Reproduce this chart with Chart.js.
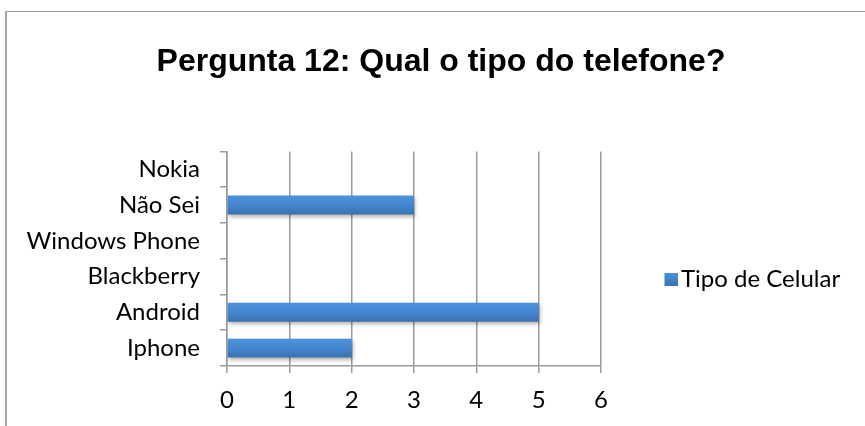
<!DOCTYPE html>
<html>
<head>
<meta charset="utf-8">
<script src="https://cdn.jsdelivr.net/npm/chart.js@4"></script>
<style>
  html, body { margin: 0; padding: 0; background: #ffffff; }
  #wrap { position: relative; width: 865px; height: 426px; overflow: hidden; background: #fff; }
  #frame { position: absolute; left: 5px; top: 11px; width: 900px; height: 500px;
           border-top: 1px solid #9a9a9a; border-left: 2px solid #a6a6a6; }
  #c { position: absolute; left: 0; top: 0; }
</style>
</head>
<body>
<div id="wrap">
  <div id="frame"></div>
  <canvas id="c" width="865" height="426"></canvas>
</div>
<script>
const categories = ["Iphone", "Android", "Blackberry", "Windows Phone", "Não Sei", "Nokia"];
const seriesName = "Tipo de Celular";
const seriesValues = [2, 5, 0, 0, 3, 0];
const xTicks = [0, 1, 2, 3, 4, 5, 6];
const titleText = "Pergunta 12: Qual o tipo do telefone?";

const LABEL_FONT = "Lato, 'Open Sans', sans-serif";
const BAR_FRACTION = 0.53;

function barGradient(context) {
  const chart = context.chart;
  const yScale = chart.scales && chart.scales.y;
  if (!chart.chartArea || !yScale || context.dataIndex === undefined) return '#4281cc';
  const center = yScale.getPixelForValue(context.dataIndex);
  const half = Math.abs(yScale.getPixelForValue(1) - yScale.getPixelForValue(0)) * BAR_FRACTION / 2;
  const g = chart.ctx.createLinearGradient(0, center - half, 0, center + half);
  g.addColorStop(0, '#4d93dc');
  g.addColorStop(0.5, '#4486d0');
  g.addColorStop(1, '#3a70ad');
  return g;
}

// legend marker: a small square sitting close to the legend text
const legendMarker = (function () {
  const cv = document.createElement('canvas');
  cv.width = 30; cv.height = 13;
  const c = cv.getContext('2d');
  const g = c.createLinearGradient(0, 0, 0, 13);
  g.addColorStop(0, '#4d93dc');
  g.addColorStop(1, '#3a74b3');
  c.fillStyle = g;
  c.fillRect(17, 0, 13, 13);
  return cv;
})();

const shadowPlugin = {
  id: 'barShadow',
  beforeDatasetsDraw(chart) {
    const c = chart.ctx;
    c.save();
    c.shadowColor = 'rgba(0,0,0,0.30)';
    c.shadowBlur = 4;
    c.shadowOffsetX = 1;
    c.shadowOffsetY = 2;
  },
  afterDatasetsDraw(chart) {
    chart.ctx.restore();
  }
};

// fixes the legend box width so the plot area ends where the reference does,
// and moves the legend box down a little so its item sits where the reference has it
const legendPlacePlugin = {
  id: 'legendPlace',
  beforeInit(chart) {
    const lg = chart.legend;
    if (!lg || lg._patched) return;
    const origFit = lg.fit.bind(lg);
    lg.fit = function () {
      origFit();
      this.width = 260;
    };
    lg._patched = true;
  },
  afterLayout(chart) {
    const lg = chart.legend;
    if (!lg) return;
    lg.top += 66;
    lg.bottom += 66;
  }
};

new Chart(document.getElementById('c'), {
  type: 'bar',
  data: {
    labels: categories,
    datasets: [{
      label: seriesName,
      data: seriesValues,
      backgroundColor: barGradient,
      borderWidth: 0,
      barPercentage: BAR_FRACTION,
      categoryPercentage: 1.0
    }]
  },
  options: {
    indexAxis: 'y',
    responsive: false,
    animation: false,
    layout: { padding: { left: 21, right: 4, top: 0, bottom: 0 } },
    plugins: {
      title: {
        display: true,
        text: titleText,
        color: '#000000',
        font: { family: "'Liberation Sans', Arial, sans-serif", size: 32, weight: 'bold' },
        padding: { top: 43, bottom: 70 }
      },
      legend: {
        display: true,
        position: 'right',
        align: 'center',
        labels: {
          boxWidth: 13,
          boxHeight: 13,
          usePointStyle: true,
          padding: 55,
          color: '#000000',
          font: { family: LABEL_FONT, size: 24 },
          generateLabels(chart) {
            return [{
              text: seriesName,
              fillStyle: '#4281cc',
              strokeStyle: '#4281cc',
              lineWidth: 0,
              pointStyle: legendMarker,
              hidden: false,
              datasetIndex: 0
            }];
          }
        }
      },
      tooltip: { enabled: false }
    },
    scales: {
      x: {
        type: 'linear',
        min: 0,
        max: 6,
        afterBuildTicks(scale) { scale.ticks = xTicks.map(v => ({ value: v })); },
        afterFit(scale) { scale.height = 60; },
        grid: {
          display: true,
          drawOnChartArea: true,
          drawTicks: true,
          tickLength: 7,
          color: '#9a9a9a',
          lineWidth: 1.5
        },
        border: { display: true, color: '#9a9a9a', width: 1.5 },
        ticks: {
          color: '#000000',
          font: { family: LABEL_FONT, size: 24 },
          padding: 13,
          maxRotation: 0
        }
      },
      y: {
        type: 'category',
        reverse: true,
        offset: true,
        afterFit(scale) { scale.width = 206; },
        grid: {
          display: true,
          drawOnChartArea: false,
          drawTicks: true,
          tickLength: 7,
          offset: true,
          color: '#9a9a9a',
          lineWidth: 1.5
        },
        border: { display: true, color: '#9a9a9a', width: 1.5 },
        ticks: {
          color: '#000000',
          font: { family: LABEL_FONT, size: 24 },
          padding: 20,
          autoSkip: false
        }
      }
    }
  },
  plugins: [shadowPlugin, legendPlacePlugin]
});
</script>
</body>
</html>
